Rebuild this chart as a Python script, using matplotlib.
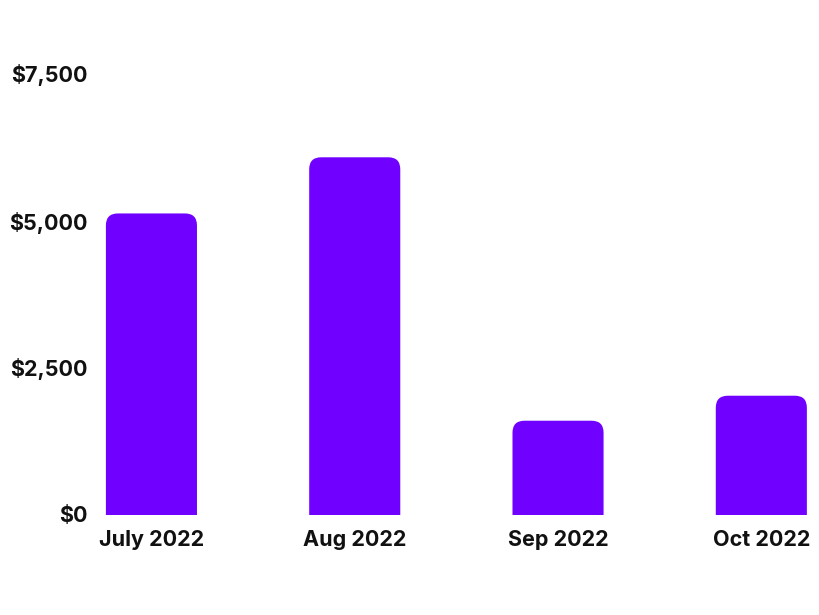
import matplotlib
matplotlib.use('Agg')
import matplotlib.pyplot as plt
from matplotlib.patches import FancyBboxPatch
from matplotlib.ticker import FuncFormatter

months = ['July 2022', 'Aug 2022', 'Sep 2022', 'Oct 2022']
revenue = [5120, 6075, 1595, 2020]
yticks = [0, 2500, 5000, 7500]

purple = '#7000ff'
plt.rcParams['font.family'] = ['Inter', 'DejaVu Sans']

fig = plt.figure(figsize=(8.2, 6.15), dpi=100)
ax = fig.add_axes([100 / 820, 100.5 / 615, 715 / 820, 441 / 615])

x = list(range(len(months)))
bars = ax.bar(x, revenue, width=0.448, color=purple)
ax.set_xlim(-0.253, 3.264)
ax.set_ylim(0, 7500)

# swap the flat bars for ones with rounded tops
fig.canvas.draw()
p0 = ax.transData.transform((0, 0))
p1 = ax.transData.transform((1, 1))
aspect = (p1[0] - p0[0]) / (p1[1] - p0[1])
rad = 12 / (p1[0] - p0[0])
for b in bars:
    b.set_visible(False)
    x0, w, h = b.get_x(), b.get_width(), b.get_height()
    extra = rad * aspect * 2
    patch = FancyBboxPatch((x0, -extra), w, h + extra,
                           boxstyle=f'round,pad=0,rounding_size={rad}',
                           mutation_aspect=aspect, fc=purple, ec='none')
    ax.add_patch(patch)

ax.set_yticks(yticks)
ax.yaxis.set_major_formatter(FuncFormatter(lambda v, p: f'${v:,.0f}'))
ax.set_xticks(x)
ax.set_xticklabels(months)
ax.tick_params(axis='both', length=0, labelsize=15.5, colors='#111111')
ax.tick_params(axis='y', pad=9)
ax.tick_params(axis='x', pad=11)
for lbl in ax.get_xticklabels() + ax.get_yticklabels():
    lbl.set_fontweight('bold')
for s in ax.spines.values():
    s.set_visible(False)

fig.savefig('out.png', dpi=100, facecolor='white')
